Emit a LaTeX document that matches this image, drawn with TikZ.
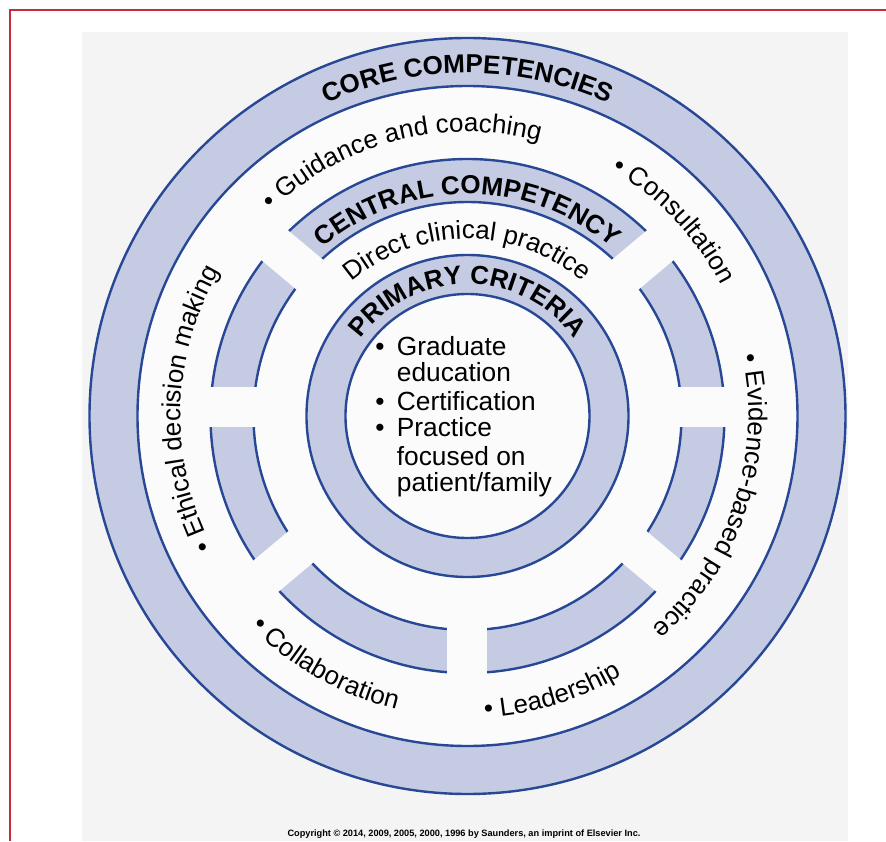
\documentclass[tikz,border=0pt]{standalone}
\usepackage{fontspec}
\setmainfont{Liberation Sans}
\usetikzlibrary{decorations.text}
\definecolor{ringfill}{RGB}{196,203,227}
\definecolor{ringline}{RGB}{40,72,150}
\definecolor{bgcol}{RGB}{244,244,244}
\definecolor{innercol}{RGB}{251,251,251}
\definecolor{redframe}{RGB}{200,45,55}
\newcommand\fsz{\fontsize{26}{30}\selectfont}
\newcommand\fszb{\fontsize{26}{30}\selectfont\bfseries}
\tikzset{
  ringline/.style={draw=ringline, line width=2.4pt},
  arctext/.style={decorate, decoration={text along path, text={#1}, text align=center}},
  listline/.style={anchor=base west, inner sep=0pt, font=\fontsize{26.3}{28}\selectfont},
  listbullet/.style={anchor=base, inner sep=0pt, font=\fontsize{26.3}{28}\selectfont},
}
\begin{document}
\begin{tikzpicture}[x=1pt,y=1pt]
\useasboundingbox (-467.5,-425) rectangle (418.5,416);
\fill[bgcol] (-385.5,-425) rectangle (380.5,384);
\coordinate (fa) at (-457.5,-425);
\coordinate (fb) at (-457.5,406);
\coordinate (fc) at (418.5,406);
\draw[redframe, line width=2.5pt] (fa) -- (fb) -- (fc);
\coordinate (C) at (0,0);
% outer ring
\fill[ringfill] (C) circle[radius=378];
\fill[innercol] (C) circle[radius=330];
\draw[ringline] (C) circle[radius=378] (C) circle[radius=330];
% middle ring (segmented)
\fill[ringfill] (C) circle[radius=257];
\fill[innercol] (C) circle[radius=214];
\draw[ringline] (C) circle[radius=257] (C) circle[radius=214];
\foreach \a in {0,40,140,180,220,270,320}{
  \fill[innercol, shift={(0,9)}, rotate=\a] (183,-20) rectangle (282,20);
}
% primary ring
\fill[ringfill] (C) circle[radius=161];
\fill[innercol] (C) circle[radius=122];
\draw[ringline] (C) circle[radius=161] (C) circle[radius=122];
% ring titles
\path[arctext={|\fszb|CORE COMPETENCIES}] (135:343) arc[start angle=135, end angle=45, radius=343];
\path[arctext={|\fszb|CENTRAL COMPETENCY}] (150:222) arc[start angle=150, end angle=30, radius=222];
\path[arctext={|\fsz|Direct clinical practice}] (150:177) arc[start angle=150, end angle=30, radius=177];
\path[arctext={|\fszb|PRIMARY CRITERIA}] (160:132) arc[start angle=160, end angle=20, radius=132];
% core competencies items
\path[arctext={|\fsz|• Guidance and coaching}] (149.5:284) arc[start angle=149.5, end angle=59.5, radius=284];
\path[arctext={|\fsz|• Consultation}] (88.4:285) arc[start angle=88.4, end angle=-1.6, radius=285];
\path[arctext={|\fsz|• Evidence-based practice}] (26.8:281) arc[start angle=26.8, end angle=-63.2, radius=281];
\path[arctext={|\fsz|• Ethical decision making}] (223.5:287) arc[start angle=223.5, end angle=133.5, radius=287];
\path[arctext={|\fsz|• Collaboration}] (195.3:302) arc[start angle=195.3, end angle=285.3, radius=302];
\path[arctext={|\fsz|• Leadership}] (242:302) arc[start angle=242, end angle=332, radius=302];
% primary criteria list
\node[listbullet] (b1) at (-87.5,61) {•};
\node[listline] (t1) at (-70.8,61) {Graduate};
\node[listline] (t2) at (-70.8,34.3) {education};
\node[listbullet] (b2) at (-87.5,6) {•};
\node[listline] (t3) at (-70.8,6) {Certification};
\node[listbullet] (b3) at (-87.5,-20.7) {•};
\node[listline] (t4) at (-70.8,-20.7) {Practice};
\node[listline] (t5) at (-70.8,-49) {focused on};
\node[listline] (t6) at (-70.8,-75.7) {patient/family};
% copyright
\node[anchor=base, inner sep=0pt, font=\fontsize{9.2}{11}\selectfont\bfseries] (copy) at (-3.5,-420) {Copyright © 2014, 2009, 2005, 2000, 1996 by Saunders, an imprint of Elsevier Inc.};
\end{tikzpicture}
\end{document}
